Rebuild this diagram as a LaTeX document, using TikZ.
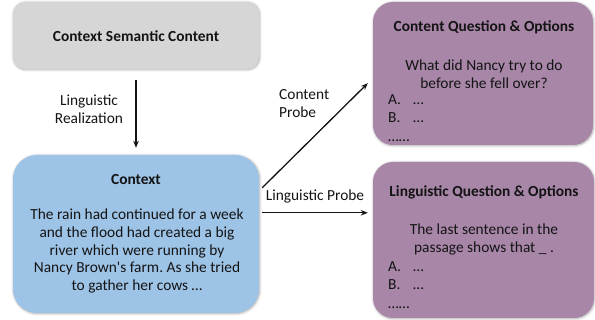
\documentclass[tikz,border=0pt]{standalone}
\usepackage{fontspec}
\setmainfont{Carlito}[Ligatures=TeXOff]
\usetikzlibrary{arrows.meta,shadows.blur}
\frenchspacing

\definecolor{boxgray}{HTML}{D6D6D6}
\definecolor{boxblue}{HTML}{9DC3E6}
\definecolor{boxpurple}{HTML}{A886A8}
\definecolor{inkdark}{HTML}{141414}

\tikzset{
  panel/.style={draw=none, inner sep=0pt,
    blur shadow={shadow blur steps=6, shadow xshift=0.6pt, shadow yshift=-0.6pt,
                 shadow opacity=35, shadow blur radius=2.5pt}},
  txt/.style={inner sep=0pt, text=inkdark, font=\fontsize{15.4}{17.7}\selectfont},
  ttl/.style={txt, font=\fontsize{15.4}{17.7}\selectfont\bfseries},
  qtxt/.style={txt, font=\fontsize{15.4}{18.5}\selectfont},
  arr/.style={-{Stealth[length=7pt,width=5.5pt]}, line width=1.3pt, draw=inkdark},
}

\begin{document}
\begin{tikzpicture}[x=1pt,y=1pt]
  \useasboundingbox (0,0) rectangle (595,320);

  % the four panels
  \node[panel, fill=boxgray, rounded corners=12pt, minimum width=246pt, minimum height=67pt]
    (sem) at (136,284.5) {};
  \node[panel, fill=boxblue, rounded corners=24pt, minimum width=246pt, minimum height=158pt]
    (ctx) at (136,86) {};
  \node[panel, fill=boxpurple, rounded corners=20pt, minimum width=220pt, minimum height=143pt]
    (cq) at (483,246.5) {};
  \node[panel, fill=boxpurple, rounded corners=20pt, minimum width=221pt, minimum height=156pt]
    (lq) at (483.5,80) {};

  % panel texts
  \node[ttl] (semtitle) at (136,284) {Context Semantic Content};

  \node[ttl] (ctxtitle) at (136,140) {Context};
  \node[txt, align=center] (ctxbody) at (137,69) {The rain had continued for a week\\
    and the flood had created a big\\ river which were running by\\
    Nancy Brown's farm. As she tried\\ to gather her cows \ldots};

  \node[ttl] (cqtitle) at (484,293) {Content Question \& Options};
  \node[qtxt, align=center] (cqtext) at (484,246)
    {What did Nancy try to do\\ before she fell over?};
  \node[qtxt, align=left, anchor=west] (cqopts) at (388,202)
    {\makebox[25pt][l]{A.}…\\ \makebox[25pt][l]{B.}…\\ ……};

  \node[ttl] (lqtitle) at (484,128) {Linguistic Question \& Options};
  \node[qtxt, align=center] (lqtext) at (484,80.5)
    {The last sentence in the\\ passage shows that \_ .};
  \node[qtxt, align=left, anchor=west] (lqopts) at (388,35)
    {\makebox[25pt][l]{A.}…\\ \makebox[25pt][l]{B.}…\\ ……};

  % connectors
  \draw[arr, shorten <=11pt, shorten >=7pt] (sem.south) -- (ctx.north);
  \node[txt, align=center] (realize) at (89,211) {Linguistic\\ Realization};

  \coordinate (cpstart) at ([shift={(3,-33)}]ctx.north east);
  \coordinate (cpend) at ([shift={(-5,62)}]cq.south west);
  \draw[arr] (cpstart) -- (cpend);
  \node[txt, align=left, anchor=west] (cplabel) at (279,216.5) {Content\\ Probe};

  \coordinate (lpstart) at ([shift={(3,-58)}]ctx.north east);
  \coordinate (lpend) at ([shift={(-5,-51)}]lq.north west);
  \draw[arr] (lpstart) -- (lpend);
  \node[txt] (lplabel) at (315,124) {Linguistic Probe};
\end{tikzpicture}
\end{document}
